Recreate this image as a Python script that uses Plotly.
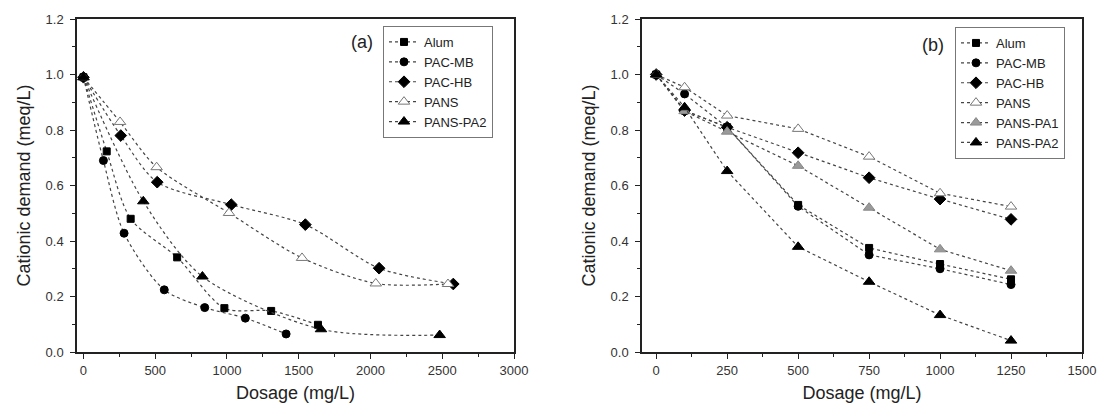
import plotly.graph_objects as go

# ---------- Panel (a) data ----------
a_alum_x = [0, 162, 329, 653, 982, 1308, 1634]
a_alum_y = [0.99, 0.723, 0.48, 0.341, 0.158, 0.148, 0.098]
a_mb_x = [0, 139, 283, 563, 845, 1128, 1412]
a_mb_y = [0.99, 0.69, 0.428, 0.224, 0.160, 0.122, 0.065]
a_hb_x = [0, 260, 514, 1030, 1546, 2060, 2577]
a_hb_y = [0.99, 0.78, 0.612, 0.531, 0.459, 0.302, 0.245]
a_pans_x = [0, 255, 510, 1014, 1523, 2037, 2540]
a_pans_y = [0.99, 0.829, 0.666, 0.501, 0.339, 0.247, 0.245]
a_pa2_x = [0, 417, 829, 1655, 2482]
a_pa2_y = [0.99, 0.543, 0.272, 0.082, 0.061]

# ---------- Panel (b) data ----------
b_x = [0, 100, 250, 500, 750, 1000, 1250]
b_alum_y = [1.0, 0.87, 0.81, 0.53, 0.375, 0.317, 0.262]
b_mb_y = [1.0, 0.93, 0.81, 0.525, 0.35, 0.30, 0.243]
b_hb_y = [1.0, 0.87, 0.81, 0.718, 0.628, 0.551, 0.478]
b_pans_y = [1.0, 0.954, 0.852, 0.804, 0.704, 0.572, 0.524]
b_pa1_y = [1.0, 0.868, 0.794, 0.671, 0.52, 0.37, 0.293]
b_pa2_y = [1.0, 0.882, 0.652, 0.379, 0.253, 0.133, 0.041]

y_ticks = [0.0, 0.2, 0.4, 0.6, 0.8, 1.0, 1.2]
a_x_ticks = [0, 500, 1000, 1500, 2000, 2500, 3000]
b_x_ticks = [0, 250, 500, 750, 1000, 1250, 1500]

FONT = "Liberation Sans, Arial, sans-serif"
LINE = dict(color="#444444", width=1.2, dash="dot")

styles = {
    "Alum": dict(symbol="square", size=7, color="black", line=dict(color="black", width=1)),
    "PAC-MB": dict(symbol="circle", size=8, color="black", line=dict(color="black", width=1)),
    "PAC-HB": dict(symbol="diamond", size=9, color="black", line=dict(color="black", width=1)),
    "PANS": dict(symbol="triangle-up", size=10, color="white", line=dict(color="#777777", width=1)),
    "PANS-PA1": dict(symbol="triangle-up", size=10, color="#9a9a9a", line=dict(color="#888888", width=1)),
    "PANS-PA2": dict(symbol="triangle-up", size=10, color="black", line=dict(color="black", width=1)),
}

fig = go.Figure()

a_series = [("Alum", a_alum_x, a_alum_y), ("PAC-MB", a_mb_x, a_mb_y),
            ("PAC-HB", a_hb_x, a_hb_y), ("PANS", a_pans_x, a_pans_y),
            ("PANS-PA2", a_pa2_x, a_pa2_y)]
for name, xs, ys in a_series:
    fig.add_trace(go.Scatter(x=xs, y=ys, name=name, mode="lines+markers",
                             line=dict(**LINE, shape="spline", smoothing=0.8),
                             marker=styles[name], xaxis="x", yaxis="y",
                             legend="legend"))

b_series = [("Alum", b_alum_y), ("PAC-MB", b_mb_y), ("PAC-HB", b_hb_y),
            ("PANS", b_pans_y), ("PANS-PA1", b_pa1_y), ("PANS-PA2", b_pa2_y)]
for name, ys in b_series:
    fig.add_trace(go.Scatter(x=b_x, y=ys, name=name, mode="lines+markers",
                             line=LINE, marker=styles[name], xaxis="x2", yaxis="y2",
                             legend="legend2"))

# body margin is removed by post_script, so page pixels == figure pixels
W, H = 1097, 408
# plot area in page pixels: x 77..1082, y 19..352
ML, MT = 77, 19
MR = W - 1082
MB = H - 352
PW, PH = W - ML - MR, H - MT - MB


def px(xp):  # page pixel -> paper x
    return (xp - ML) / PW


def py(yp):  # page pixel -> paper y
    return (H - MB - yp) / PH


TITLE_FONT = dict(family=FONT, size=18, color="#222222")


def make_axis(**kw):
    d = dict(showline=True, linecolor="#222222", linewidth=1.5, mirror=True,
             ticks="outside", ticklen=5, tickwidth=1.2, tickcolor="#222222",
             showgrid=False, zeroline=False, automargin=False,
             ticklabeloverflow="allow",
             tickfont=dict(family=FONT, size=13, color="#333333"))
    d.update(kw)
    return d


def minor(dt):
    return dict(ticks="outside", ticklen=3, tickwidth=1.2, tickcolor="#222222", dtick=dt, tick0=0)


xa = make_axis(domain=[0, px(514)], range=[-45, 3000], tickvals=a_x_ticks, minor=minor(250),
               anchor="y", ticklabelstandoff=1,
               title=dict(text="Dosage (mg/L)", font=TITLE_FONT, standoff=9))
ya = make_axis(domain=[0, 1], range=[0, 1.2], tickvals=y_ticks, tickformat=".1f", anchor="x",
               minor=minor(0.1), ticklabelstandoff=4,
               title=dict(text="Cationic demand (meq/L)", font=TITLE_FONT, standoff=10))
xb = make_axis(domain=[px(642), 1], range=[-50, 1500], tickvals=b_x_ticks, minor=minor(125),
               anchor="y2", ticklabelstandoff=1,
               title=dict(text="Dosage (mg/L)", font=TITLE_FONT, standoff=9))
yb = make_axis(domain=[0, 1], range=[0, 1.2], tickvals=y_ticks, tickformat=".1f", anchor="x2",
               minor=minor(0.1), ticklabelstandoff=4,
               title=dict(text="Cationic demand (meq/L)", font=TITLE_FONT, standoff=10))

legend_common = dict(bgcolor="white", bordercolor="#777777", borderwidth=1,
                     font=dict(family=FONT, size=13, color="#222222"),
                     xanchor="left", yanchor="top", tracegroupgap=0, itemwidth=30)

fig.update_layout(
    width=W, height=H, margin=dict(l=ML, r=MR, t=MT, b=MB, autoexpand=False),
    paper_bgcolor="white", plot_bgcolor="white",
    xaxis=xa, yaxis=ya, xaxis2=xb, yaxis2=yb,
    legend=dict(**legend_common, entrywidth=102, x=px(383), y=py(26)),
    legend2=dict(**legend_common, entrywidth=100, x=px(955), y=py(27)),
    annotations=[
        dict(text="(a)", x=px(362), y=py(42), xref="paper", yref="paper",
             xanchor="center", yanchor="middle",
             showarrow=False, font=dict(family=FONT, size=18, color="#222222")),
        dict(text="(b)", x=px(933), y=py(45), xref="paper", yref="paper",
             xanchor="center", yanchor="middle",
             showarrow=False, font=dict(family=FONT, size=18, color="#222222")),
    ],
)

fig.write_html("out.html", config={"displayModeBar": False},
               post_script="document.body.style.margin='0';document.body.style.overflow='hidden';")
